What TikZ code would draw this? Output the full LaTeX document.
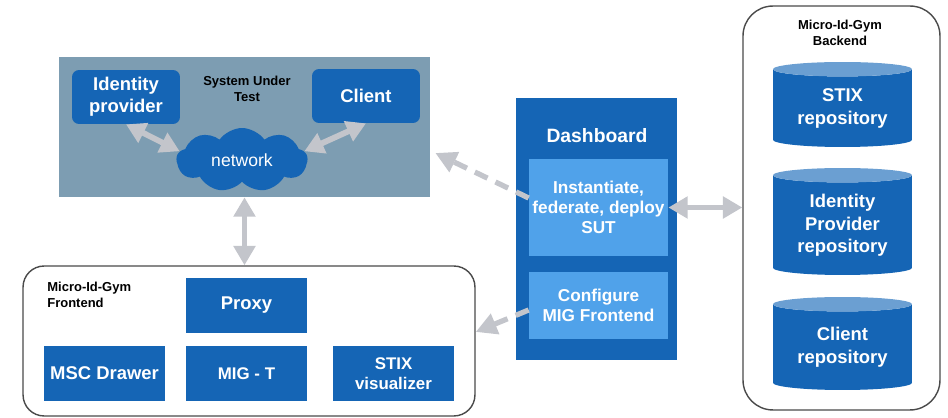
\documentclass[tikz,border=0pt]{standalone}
\usepackage{fontspec}
\setmainfont{Liberation Sans}
\usetikzlibrary{arrows.meta,shapes.symbols,shapes.geometric,positioning}
\definecolor{migblue}{HTML}{1565B5}
\definecolor{miglight}{HTML}{50A2EA}
\definecolor{sutgray}{HTML}{7D9DB2}
\definecolor{arrowgray}{HTML}{C3C5CB}
\definecolor{cyltop}{HTML}{6B9FD2}
\definecolor{framegray}{HTML}{4A4A4A}

\begin{document}
\begin{tikzpicture}[x=0.02cm,y=-0.02cm,
  box/.style={fill=migblue,text=white,align=center,inner sep=0pt,
    font=\bfseries\fontsize{10.5}{12.5}\selectfont},
  smallbox/.style={box,font=\bfseries\fontsize{9.6}{11.5}\selectfont},
  title/.style={align=center,inner sep=0pt,font=\bfseries\fontsize{7.4}{8.8}\selectfont},
  group/.style={draw=framegray,line width=0.8pt,rounded corners=12pt,inner sep=0pt},
  repo/.style={cylinder,shape border rotate=90,aspect=0.16,draw=none,anchor=shape center,
    cylinder uses custom fill,cylinder body fill=migblue,cylinder end fill=cyltop,
    text=white,align=center,inner sep=0pt,minimum width=2.78cm,
    font=\bfseries\fontsize{10.5}{13}\selectfont},
  garrow/.style={draw=arrowgray,line width=3.3pt,
    {Triangle[width=12pt,length=11pt]}-{Triangle[width=12pt,length=11pt]}},
  darrow/.style={draw=arrowgray,line width=3pt,dash pattern=on 8pt off 5pt,
    -{Triangle[width=12pt,length=12pt]}}]
  \useasboundingbox (0,0) rectangle (948,418);

  \node[fill=sutgray,minimum width=7.42cm,minimum height=2.8cm,inner sep=0pt] (sut) at (244.5,127) {};
  \node[title] (suttitle) at (247,89) {System Under\\Test};
  \node[box,rounded corners=4pt,minimum width=2.16cm,minimum height=1.08cm] (idp) at (126,97) {Identity\\provider};
  \node[box,rounded corners=4pt,minimum width=2.16cm,minimum height=1.08cm] (client) at (366,96) {Client};
  \node[cloud,cloud puffs=9,cloud puff arc=110,aspect=2.1,fill=migblue,text=white,
    inner sep=0pt,minimum width=2.62cm,minimum height=1.28cm,
    font=\fontsize{10}{12}\selectfont] (net) at (242,160) {network};

  \node[group,minimum width=9.04cm,minimum height=3cm] (front) at (249,341) {};
  \node[title,align=left,anchor=north west] (fronttitle) at (47,282) {Micro-Id-Gym\\Frontend};
  \node[box,minimum width=2.42cm,minimum height=1.1cm] (proxy) at (246.5,305.5) {Proxy};
  \node[box,minimum width=2.42cm,minimum height=1.1cm] (msc) at (104.5,373.5) {MSC Drawer};
  \node[smallbox,minimum width=2.42cm,minimum height=1.1cm] (migt) at (246.5,373.5) {MIG - T};
  \node[smallbox,minimum width=2.42cm,minimum height=1.1cm] (stixvis) at (393.5,373.5) {STIX\\visualizer};

  \node[box,minimum width=3.22cm,minimum height=5.24cm] (dash) at (596.5,229) {};
  \node[box,font=\bfseries\fontsize{11}{13}\selectfont] (dashtitle) at (597,136) {Dashboard};
  \node[smallbox,fill=miglight,minimum width=2.78cm,minimum height=1.94cm,
    font=\bfseries\fontsize{9.8}{11.3}\selectfont] (inst) at (598.5,207.5) {Instantiate,\\federate, deploy\\SUT};
  \node[smallbox,fill=miglight,minimum width=2.78cm,minimum height=1.34cm,
    font=\bfseries\fontsize{9.8}{11.3}\selectfont] (conf) at (598.5,305.5) {Configure\\MIG Frontend};

  \node[group,rounded corners=17pt,minimum width=3.94cm,minimum height=8.08cm] (back) at (841.5,208) {};
  \node[title] (backtitle) at (840,33) {Micro-Id-Gym\\Backend};
  \node[repo,minimum height=1.7cm] (stixrepo) at (842.5,104.5) {STIX\\repository};
  \node[repo,minimum height=2.14cm] (idprepo) at (842.5,221.5) {Identity\\Provider\\repository};
  \node[repo,minimum height=1.86cm] (clientrepo) at (842.5,343.5) {Client\\repository};

  \draw[garrow] (idp.south) -- (net.172);
  \draw[garrow] (client.south) -- (net.8);
  \draw[garrow] (sut.south) -- (sut.south |- front.north);
  \draw[darrow] ([yshift=0.19cm]inst.west) -- ([xshift=0.1cm,yshift=-0.52cm]sut.east);
  \draw[darrow] ([yshift=-0.09cm]conf.west) -- ([yshift=0.18cm]front.east);
  \draw[garrow] (inst.east) -- (inst.east -| back.west);
\end{tikzpicture}
\end{document}
